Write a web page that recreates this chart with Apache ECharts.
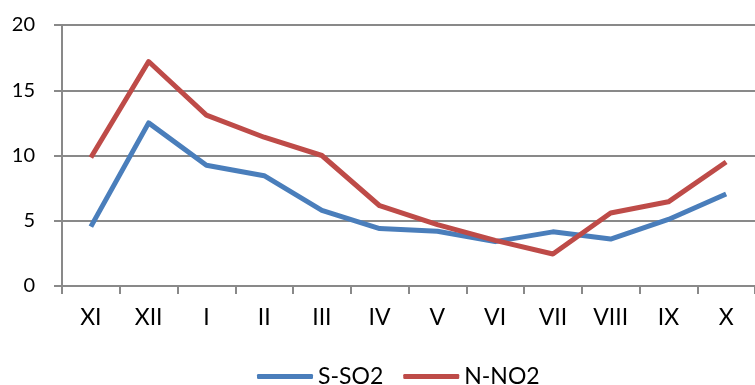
<!DOCTYPE html>
<html>
<head>
<meta charset="utf-8">
<script src="https://cdn.jsdelivr.net/npm/echarts@6/dist/echarts.min.js"></script>
<style>
  html, body { margin: 0; padding: 0; background: #fff; }
  #chart { width: 755px; height: 385px; }
</style>
</head>
<body>
<div id="chart"></div>
<script>
// Months, November through October
const months = ['XI', 'XII', 'I', 'II', 'III', 'IV', 'V', 'VI', 'VII', 'VIII', 'IX', 'X'];
// Monthly concentrations
const sSO2 = [4.55, 12.5, 9.25, 8.45, 5.8, 4.4, 4.2, 3.4, 4.15, 3.6, 5.1, 7.05];
const nNO2 = [9.85, 17.2, 13.1, 11.4, 10.0, 6.15, 4.7, 3.5, 2.45, 5.6, 6.45, 9.5];
const yTicks = { min: 0, max: 20, interval: 5 };

const axisGray = '#898989';
const font = 'Lato, "Open Sans", sans-serif';

const chart = echarts.init(document.getElementById('chart'), null, { renderer: 'canvas' });
chart.setOption({
  animation: false,
  backgroundColor: '#ffffff',
  grid: { left: 62, top: 25, width: 701, height: 261, containLabel: false },
  xAxis: {
    type: 'category',
    data: months,
    boundaryGap: true,
    axisLine: { show: true, lineStyle: { color: axisGray, width: 2 } },
    axisTick: { show: true, length: 8, alignWithLabel: false, lineStyle: { color: axisGray, width: 2 } },
    axisLabel: { color: '#000', fontFamily: font, fontSize: 23, margin: 20, interval: 0 },
    splitLine: { show: false }
  },
  yAxis: {
    type: 'value',
    min: yTicks.min,
    max: yTicks.max,
    interval: yTicks.interval,
    axisLine: { show: true, lineStyle: { color: axisGray, width: 2 } },
    axisTick: { show: true, length: 8, lineStyle: { color: axisGray, width: 2 } },
    axisLabel: { color: '#000', fontFamily: font, fontSize: 20, margin: 27 },
    splitLine: { show: true, lineStyle: { color: axisGray, width: 2 } }
  },
  legend: {
    left: 257,
    top: 364,
    padding: 0,
    icon: 'roundRect',
    itemWidth: 56,
    itemHeight: 5,
    itemGap: 20,
    textStyle: { color: '#000', fontFamily: font, fontSize: 23, lineHeight: 25 },
    data: ['S-SO2', 'N-NO2']
  },
  series: [
    {
      name: 'S-SO2',
      type: 'line',
      data: sSO2,
      showSymbol: false,
      symbol: 'none',
      color: '#4a7ebb',
      lineStyle: { color: '#4a7ebb', width: 5, join: 'round' }
    },
    {
      name: 'N-NO2',
      type: 'line',
      data: nNO2,
      showSymbol: false,
      symbol: 'none',
      color: '#be4b48',
      lineStyle: { color: '#be4b48', width: 5, join: 'round' }
    }
  ]
});
</script>
</body>
</html>
